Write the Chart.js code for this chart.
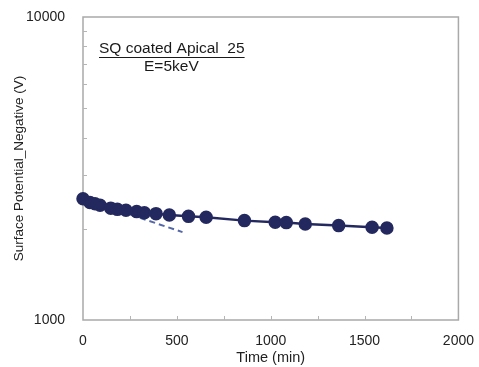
<!DOCTYPE html>
<html>
<head>
<meta charset="utf-8">
<script src="https://cdn.jsdelivr.net/npm/chart.js@4/dist/chart.umd.min.js"></script>
<style>
  html, body { margin: 0; padding: 0; background: #ffffff; }
  #wrap { width: 479px; height: 367px; }
</style>
</head>
<body>
<div id="wrap"><canvas id="c" width="479" height="367"></canvas></div>
<script>
// Surface potential decay measurement, SQ coated Apical 25, E = 5 keV
const timeMin = [0, 37, 64, 91, 148, 183, 229, 286, 327, 389, 460, 562, 656, 860, 1024, 1083, 1184, 1362, 1540, 1619];
const potentialV = [2513, 2444, 2420, 2390, 2340, 2318, 2303, 2279, 2260, 2244, 2220, 2198, 2183, 2128, 2101, 2096, 2074, 2049, 2023, 2012];

// early-time trend line (dashed)
const fitTime = [0, 530];
const fitV = [2513, 1950];

const xTickValues = [0, 500, 1000, 1500, 2000];
const xMinorTicks = [250, 500, 750, 1000, 1250, 1500, 1750];
const yTickValues = [1000, 10000];
const yMinorTicks = [2000, 3000, 4000, 5000, 6000, 7000, 8000, 9000];

const navy = '#23295f';
const font = 'Liberation Sans, Arial, sans-serif';

const frame = {
  id: 'frame',
  beforeDatasetsDraw(chart) {
    const { ctx, chartArea: a, scales: { x, y } } = chart;
    ctx.save();
    ctx.strokeStyle = '#a9a9a9';
    ctx.lineWidth = 1.5;
    ctx.strokeRect(a.left, a.top, a.right - a.left, a.bottom - a.top);
    ctx.lineWidth = 1;
    ctx.strokeStyle = '#b5b5b5';
    ctx.beginPath();
    xMinorTicks.forEach(v => {
      const px = Math.round(x.getPixelForValue(v)) + 0.5;
      ctx.moveTo(px, a.bottom);
      ctx.lineTo(px, a.bottom - 4);
    });
    yMinorTicks.forEach(v => {
      const py = Math.round(y.getPixelForValue(v)) + 0.5;
      ctx.moveTo(a.left, py);
      ctx.lineTo(a.left + 4, py);
    });
    ctx.stroke();

    // annotation
    ctx.fillStyle = '#1a1a1a';
    ctx.font = '15.5px ' + font;
    ctx.textBaseline = 'alphabetic';
    ctx.textAlign = 'left';
    const t1 = 'SQ coated Apical  25';
    const x1 = a.left + 16;
    const y1 = a.top + 36;
    ctx.fillText(t1, x1, y1);
    const w1 = ctx.measureText(t1).width;
    ctx.strokeStyle = '#1a1a1a';
    ctx.lineWidth = 1;
    ctx.beginPath();
    ctx.moveTo(x1, y1 + 4.5);
    ctx.lineTo(x1 + w1, y1 + 4.5);
    ctx.stroke();
    ctx.fillText('E=5keV', a.left + 61, a.top + 54);
    ctx.restore();
  }
};

new Chart(document.getElementById('c'), {
  type: 'scatter',
  data: {
    datasets: [
      {
        data: timeMin.map((t, i) => ({ x: t, y: potentialV[i] })),
        showLine: true,
        borderColor: navy,
        backgroundColor: navy,
        borderWidth: 2.5,
        pointRadius: 5.5,
        pointHoverRadius: 5.5,
        clip: false,
        order: 1
      },
      {
        data: fitTime.map((t, i) => ({ x: t, y: fitV[i] })),
        showLine: true,
        borderColor: '#5468a8',
        borderWidth: 2,
        borderDash: [6, 4],
        pointRadius: 0,
        clip: false,
        order: 2
      }
    ]
  },
  options: {
    responsive: false,
    animation: false,
    layout: { padding: { top: 0, right: 12, left: 0, bottom: 0 } },
    plugins: { legend: { display: false }, tooltip: { enabled: false } },
    scales: {
      x: {
        type: 'linear',
        min: 0,
        max: 2000,
        afterBuildTicks: s => { s.ticks = xTickValues.map(v => ({ value: v })); },
        afterFit: s => { s.height = 47; },
        grid: { display: false },
        border: { display: false },
        ticks: { color: '#222', font: { family: font, size: 14 }, padding: 5, maxRotation: 0, callback: v => String(v) },
        title: { display: true, text: 'Time (min)', color: '#222', font: { family: font, size: 14.5 }, padding: { top: 0, bottom: 0 } }
      },
      y: {
        type: 'logarithmic',
        min: 1000,
        max: 10000,
        afterBuildTicks: s => { s.ticks = yTickValues.map(v => ({ value: v })); },
        afterFit: s => { s.width = 83; },
        grid: { display: false },
        border: { display: false },
        ticks: { color: '#222', font: { family: font, size: 14, lineHeight: 1 }, padding: 10, callback: v => String(v) },
        title: { display: true, text: 'Surface Potential_Negative (V)', color: '#222', font: { family: font, size: 13.5 }, padding: { top: 11, bottom: 0 } }
      }
    }
  },
  plugins: [frame]
});
</script>
</body>
</html>
